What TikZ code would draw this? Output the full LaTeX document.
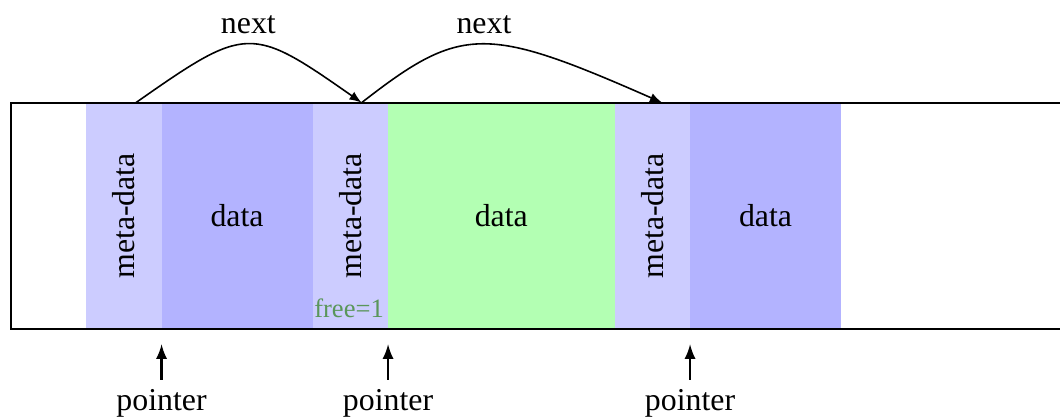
\documentclass[tikz,border=0pt]{standalone}
\usepackage{fontspec}
\setmainfont{Liberation Serif}
\usetikzlibrary{arrows}
\definecolor{metafill}{RGB}{204,204,255}
\definecolor{datafill}{RGB}{179,179,255}
\definecolor{freefill}{RGB}{179,255,179}
\definecolor{freetext}{RGB}{90,150,90}

\begin{document}
\begin{tikzpicture}[font=\fontsize{12}{14}\selectfont,
	arr/.style={-latex, semithick},
	ptrarr/.style={-latex, line width=0.9pt}]
	\path[use as bounding box] (-1.14,-1.19) rectangle (12.9,4.36);
	
	\foreach \a/\b/\c in {0/1/metafill, 1/3/datafill, 3/4/metafill, 4/7/freefill, 7/8/metafill, 8/10/datafill}
		\fill[\c] (\a,0) rectangle (\b,3);
	\draw[line width=0.8pt] (12.95,3) -- (-1,3) -- (-1,0) -- (12.95,0);
	
	\node[rotate=90] (m1) at (0.5,1.5) {meta-data};
	\node (d1) at (2,1.5) {data};
	\node[rotate=90] (m2) at (3.5,1.5) {meta-data};
	\node (d2) at (5.5,1.5) {data};
	\node[rotate=90] (m3) at (7.5,1.5) {meta-data};
	\node (d3) at (9,1.5) {data};
	\node[freetext, font=\fontsize{10}{12}\selectfont, anchor=base east, inner sep=0pt] (free) at (3.95,0.16) {free=1};
	
	\coordinate (A) at (0.66,3);
	\coordinate (B) at (3.65,3);
	\coordinate (C) at (7.63,3);
	\draw [arr] (A) .. controls (2.13,4.03) and (2.18,4.03) .. (B);
	\node (n1) at (2.15,4.03) {next};
	\draw [arr] (B) .. controls (4.97,4.03) and (5.29,4.03) .. (C);
	\node (n2) at (5.27,4.03) {next};
	
	\foreach \x [count=\i] in {1,4,8} {
		\node (ptr\i) at (\x,-0.98) {pointer};
		\coordinate (tip\i) at (\x,-0.2);
		\draw [ptrarr] (ptr\i) -- (tip\i);
	}
\end{tikzpicture}
\end{document}
